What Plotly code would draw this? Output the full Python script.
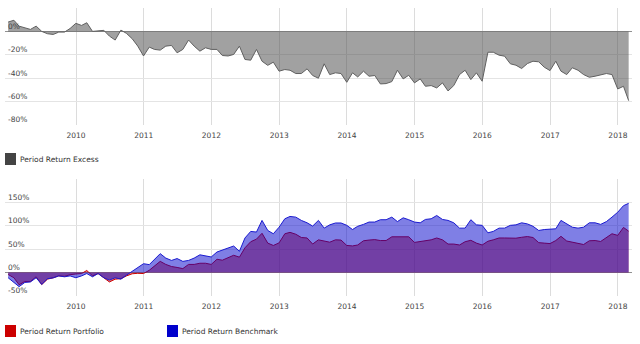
import pandas as pd
import plotly.graph_objects as go

# Month-end observation dates
dates = pd.date_range("2008-12-31", periods=111, freq="ME")

# Period return excess (%), portfolio minus benchmark
excess = [
    8, 9.5, 4.5, 2.8, 1.7, 4.5, 0, -2, -2.6, -0.6,
    -0.6, 2.5, 6.9, 5.1, 7.4, 0, 0.2, 0.9, -4, -7.4,
    1.1, -1.7, -6.3, -12.6, -21, -13.4, -15.4, -16, -12.6, -12,
    -18.3, -15.4, -7.4, -12.6, -16.9, -14, -15.4, -15.4, -20.6, -21,
    -19.7, -12.6, -24, -24.6, -15.4, -25.5, -29, -26.3, -34, -32.6,
    -33.2, -36, -36, -32, -37.7, -40, -27.7, -36.9, -35.4, -36,
    -43.5, -35.4, -38.9, -34, -38.3, -37.7, -44.9, -44.6, -42.9, -33.2,
    -40.6, -37.5, -44, -40.6, -46.9, -46.3, -48.3, -44, -50.9, -46.3,
    -36.9, -33.2, -41.2, -35.4, -42.6, -17.8, -17.8, -20.3, -21.2, -27.7,
    -28.9, -31.7, -27.5, -25.5, -26, -30.6, -33.5, -25.5, -34, -36.9,
    -31.1, -33.2, -36.9, -39.2, -38.3, -36.9, -36, -36.9, -49.2, -46.9,
    -59.2,
]

# Cumulative period return of the portfolio (%)
portfolio = [
    -4, -11, -26, -19, -19, -9, -25.5, -14, -11, -7,
    -8, -4.5, -3, -2, 4.5, -7, -2, -11.5, -20, -14,
    -13, -7, -2.5, -1.5, -2, 5, 13.5, 24, 17.5, 13,
    11, 8.5, 17.5, 17.5, 20, 20, 17.5, 28.5, 26.5, 31,
    37, 33, 53, 66, 71.5, 84, 63, 58, 63.5, 83,
    86, 82, 75, 74, 61, 70, 68, 65, 70, 69.5,
    58, 57, 59, 68, 69.5, 70.5, 68.5, 68.5, 76.5, 77,
    77, 76.5, 64.5, 66.5, 67, 70, 74, 70, 61, 61,
    59, 66, 69, 63, 59, 67, 70, 74, 74, 73.5,
    73.5, 75.5, 77, 75, 64, 63, 62, 68.5, 77.5, 67.5,
    65.5, 62, 60, 68, 68.5, 66.5, 74.5, 83, 79.5, 96.5,
    88.5,
]

# Cumulative period return of the benchmark (%)
benchmark = [
    -11, -20, -30, -21, -20, -11, -25.5, -13, -11.3, -7,
    -9, -7, -11, -7, -2, -9, -2, -11, -16, -11,
    -14, -5.5, 3, 12, 19, 17, 28.5, 40.5, 31, 26,
    30, 24, 26, 31, 38, 35.5, 33.4, 44, 47.6, 52.6,
    56.8, 45.5, 74, 88, 86.6, 111.5, 90, 83, 97, 115,
    120, 118.5, 111.5, 106.4, 99.4, 111.5, 95, 102, 106, 106,
    101, 92, 99, 103, 108, 108, 113, 113, 118.5, 109,
    117, 113, 108, 106.4, 113.6, 115, 122, 113.6, 111.5, 106.4,
    95, 95, 113, 102, 101, 85, 88, 95, 95, 101,
    102, 106.4, 104, 99, 90, 92, 93.6, 93.6, 111.5, 104,
    97, 95, 97, 106.4, 106.4, 103, 109, 118.5, 129, 143,
    148,
]

year_ticks = [pd.Timestamp(f"{y}-01-01") for y in range(2010, 2019)]
year_text = [str(y) for y in range(2010, 2019)]
x_range = ["2008-12-14", "2018-03-18"]

W, H = 640, 344
FONT = "DejaVu Sans"
TEXT = "#444444"
GRID = "#e4e4e4"
VGRID = "#dcdcdc"


def py(px):
    return 1 - px / H


fig = go.Figure()

fig.add_trace(go.Scatter(
    x=dates, y=excess, mode="lines", fill="tozeroy",
    line=dict(color="#606060", width=1),
    fillcolor="rgba(68,68,68,0.5)",
    xaxis="x", yaxis="y", hoverinfo="skip", showlegend=False,
))
fig.add_trace(go.Scatter(
    x=dates, y=portfolio, mode="lines", fill="tozeroy",
    line=dict(color="#cc0000", width=1),
    fillcolor="rgba(204,0,0,0.5)",
    xaxis="x2", yaxis="y2", hoverinfo="skip", showlegend=False,
))
fig.add_trace(go.Scatter(
    x=dates, y=benchmark, mode="lines", fill="tozeroy",
    line=dict(color="#1a1ad0", width=1),
    fillcolor="rgba(0,0,204,0.5)",
    xaxis="x2", yaxis="y2", hoverinfo="skip", showlegend=False,
))

xdom = [5 / W, 632 / W]
xcommon = dict(
    domain=xdom, range=x_range, type="date",
    tickmode="array", tickvals=year_ticks, ticktext=year_text,
    showgrid=True, gridcolor=VGRID, gridwidth=1,
    zeroline=False, showline=False, ticks="",
    tickfont=dict(family=FONT, size=7.5, color=TEXT),
    ticklabelstandoff=4,
)
ycommon = dict(
    showgrid=True, gridcolor=GRID, gridwidth=1,
    zeroline=True, zerolinecolor="#909090", zerolinewidth=1,
    showline=False, ticks="",
    ticklabelposition="inside top",
    tickfont=dict(family=FONT, size=7.5, color=TEXT),
    layer="above traces",
)

fig.update_layout(
    width=W, height=H, autosize=False,
    margin=dict(l=0, r=0, t=0, b=0),
    paper_bgcolor="white", plot_bgcolor="white",
    font=dict(family=FONT, size=7.5, color=TEXT),
    xaxis=dict(anchor="y", **xcommon),
    yaxis=dict(
        anchor="x", domain=[py(125), py(8)], range=[-80, 20],
        tickmode="array", tickvals=[-80, -60, -40, -20, 0, 20],
        ticktext=["-80%", "-60%", "-40%", "-20%", "0%", ""],
        **ycommon,
    ),
    xaxis2=dict(anchor="y2", **xcommon),
    yaxis2=dict(
        anchor="x2", domain=[py(296), py(179)], range=[-50, 200],
        tickmode="array", tickvals=[-50, 0, 50, 100, 150, 200],
        ticktext=["-50%", "0%", "50%", "100%", "150%", ""],
        **ycommon,
    ),
)

# Legend swatches and labels
legend_items = [
    (5, 153, "#444444", "Period Return Excess"),
    (5, 325, "#cc0000", "Period Return Portfolio"),
    (167, 325, "#0000cc", "Period Return Benchmark"),
]
for lx, ly, col, label in legend_items:
    fig.add_shape(
        type="rect", xref="paper", yref="paper",
        x0=lx / W, x1=(lx + 11) / W, y0=py(ly + 12), y1=py(ly),
        fillcolor=col, line=dict(width=0), layer="above",
    )
    fig.add_annotation(
        xref="paper", yref="paper", x=(lx + 13) / W, y=py(ly + 6.5),
        xanchor="left", yanchor="middle", showarrow=False,
        text=label, font=dict(family=FONT, size=7.5, color="#333333"),
    )

fig.write_html("out.html")
